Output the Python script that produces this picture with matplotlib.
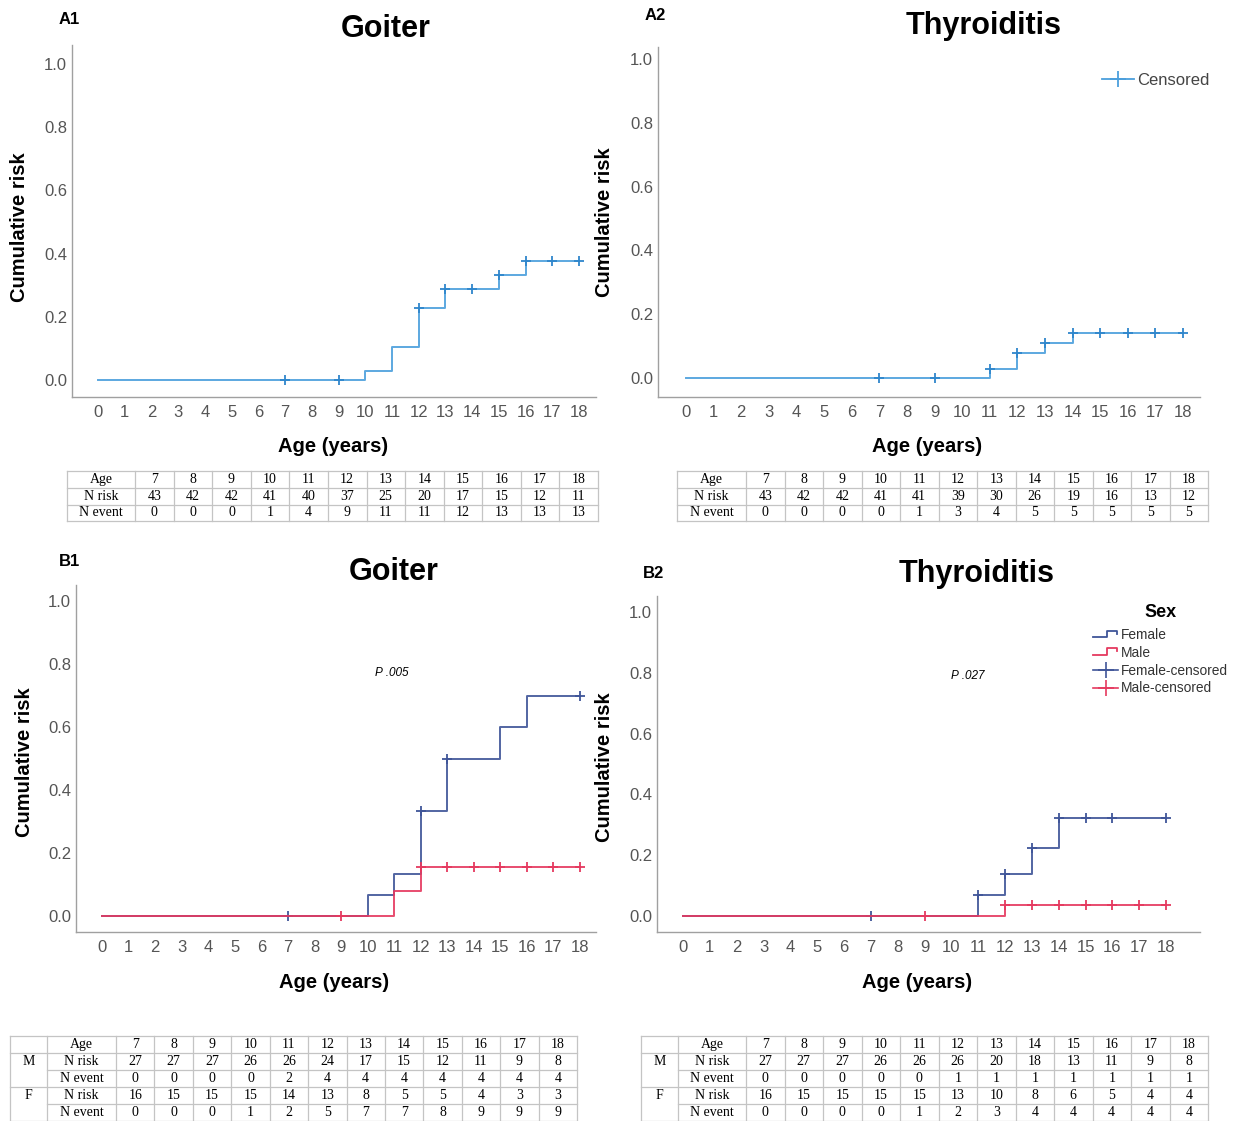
import numpy as np
import matplotlib
matplotlib.use('Agg')
import matplotlib.pyplot as plt
from matplotlib.lines import Line2D
from matplotlib.legend_handler import HandlerBase

# ---- data ----
# A1 goiter, whole cohort
a1_times = [0, 10, 11, 12, 13, 15, 16, 18]
a1_risk = [0, 0.03, 0.105, 0.227, 0.289, 0.332, 0.376, 0.376]
a1_cens = [7, 9, 12, 13, 14, 15, 16, 17, 18]
# A2 thyroiditis, whole cohort
a2_times = [0, 11, 12, 13, 14, 18]
a2_risk = [0, 0.027, 0.077, 0.109, 0.142, 0.142]
a2_cens = [7, 9, 11, 12, 13, 14, 15, 16, 17, 18]
# B1 goiter by sex
b1_f_times = [0, 10, 11, 12, 13, 15, 16, 18]
b1_f_risk = [0, 0.066, 0.134, 0.332, 0.50, 0.60, 0.70, 0.70]
b1_f_cens = [7, 12, 13, 18]
b1_m_times = [0, 11, 12, 18]
b1_m_risk = [0, 0.078, 0.155, 0.155]
b1_m_cens = [9, 12, 13, 14, 15, 16, 17, 18]
# B2 thyroiditis by sex
b2_f_times = [0, 11, 12, 13, 14, 18]
b2_f_risk = [0, 0.068, 0.139, 0.223, 0.321, 0.321]
b2_f_cens = [7, 11, 12, 13, 14, 15, 16, 18]
b2_m_times = [0, 12, 18]
b2_m_risk = [0, 0.037, 0.037]
b2_m_cens = [9, 12, 13, 14, 15, 16, 17, 18]

# risk tables
tab_ages = [7, 8, 9, 10, 11, 12, 13, 14, 15, 16, 17, 18]
a1_nrisk = [43, 42, 42, 41, 40, 37, 25, 20, 17, 15, 12, 11]
a1_nevent = [0, 0, 0, 1, 4, 9, 11, 11, 12, 13, 13, 13]
a2_nrisk = [43, 42, 42, 41, 41, 39, 30, 26, 19, 16, 13, 12]
a2_nevent = [0, 0, 0, 0, 1, 3, 4, 5, 5, 5, 5, 5]
b1_m_nrisk = [27, 27, 27, 26, 26, 24, 17, 15, 12, 11, 9, 8]
b1_m_nevent = [0, 0, 0, 0, 2, 4, 4, 4, 4, 4, 4, 4]
b1_f_nrisk = [16, 15, 15, 15, 14, 13, 8, 5, 5, 4, 3, 3]
b1_f_nevent = [0, 0, 0, 1, 2, 5, 7, 7, 8, 9, 9, 9]
b2_m_nrisk = [27, 27, 27, 26, 26, 26, 20, 18, 13, 11, 9, 8]
b2_m_nevent = [0, 0, 0, 0, 0, 1, 1, 1, 1, 1, 1, 1]
b2_f_nrisk = [16, 15, 15, 15, 15, 13, 10, 8, 6, 5, 4, 4]
b2_f_nevent = [0, 0, 0, 0, 1, 2, 3, 4, 4, 4, 4, 4]

x_ticks = list(range(0, 19))
y_ticks = [0.0, 0.2, 0.4, 0.6, 0.8, 1.0]

BLUE = '#4b9fdc'
BLUE_M = '#2f86cc'
FEM = '#3f5598'
MAL = '#e5395f'
SANS = 'Liberation Sans'
SERIF = 'Liberation Serif'

W, H = 1233, 1121
fig = plt.figure(figsize=(W / 100, H / 100), dpi=100)


def add_panel(left, right, top, bottom, x0px, x18px, y0px, y1px):
    '''Axes placed in pixel coords, limits set so that data anchors land on the given pixels'''
    ax = fig.add_axes([left / W, 1 - bottom / H, (right - left) / W, (bottom - top) / H])
    sx = (x18px - x0px) / 18
    ax.set_xlim(-(x0px - left) / sx, 18 + (right - x18px) / sx)
    sy = y0px - y1px
    ax.set_ylim(-(bottom - y0px) / sy, 1 + (y1px - top) / sy)
    ax.set_xticks(x_ticks)
    ax.set_yticks(y_ticks)
    ax.set_yticklabels(['{:.1f}'.format(v) for v in y_ticks])
    ax.tick_params(length=0, labelsize=12, labelcolor='#555555', pad=3.5)
    ax.tick_params(axis='x', pad=6)
    for lab in ax.get_xticklabels() + ax.get_yticklabels():
        lab.set_fontfamily(SANS)
    for s in ['top', 'right']:
        ax.spines[s].set_visible(False)
    for s in ['left', 'bottom']:
        ax.spines[s].set_color('#a0a0a0')
        ax.spines[s].set_linewidth(1.0)
    ax.patch.set_alpha(0)
    return ax


def km_curve(ax, times, risk, cens, line_col, mark_col):
    ax.step(times, risk, where='post', color=line_col, lw=1.4, alpha=0.9)
    idx = np.searchsorted(times, cens, side='right') - 1
    cy = np.array(risk)[idx]
    ax.plot(cens, cy, '+', color=mark_col, ms=7.5, mew=1.3, ls='none')


axA1 = add_panel(72, 596, 45, 397, 98, 579, 380, 64)
km_curve(axA1, a1_times, a1_risk, a1_cens, BLUE, BLUE_M)

axA2 = add_panel(658, 1200, 47, 397, 686, 1183, 378, 59)
km_curve(axA2, a2_times, a2_risk, a2_cens, BLUE, BLUE_M)
axA2.legend(handles=[Line2D([], [], color=BLUE, marker='+', ms=12, mew=1.3, lw=1.3)],
            labels=['Censored'], loc='upper left', bbox_to_anchor=(1094 / W, 1 - 65 / H),
            bbox_transform=fig.transFigure, frameon=False, borderpad=0, handlelength=1.9,
            handletextpad=0.2, prop={'family': SANS, 'size': 12}, labelcolor='#444444')

axB1 = add_panel(76, 596, 585, 932, 102, 580, 916, 601)
km_curve(axB1, b1_f_times, b1_f_risk, b1_f_cens, FEM, FEM)
km_curve(axB1, b1_m_times, b1_m_risk, b1_m_cens, MAL, MAL)
axB1.text(10.9, 0.77, 'P .005', fontsize=8.5, style='italic', family=SANS, ha='center', va='center')

axB2 = add_panel(657, 1200, 596, 932, 683, 1166, 916, 612)
km_curve(axB2, b2_f_times, b2_f_risk, b2_f_cens, FEM, FEM)
km_curve(axB2, b2_m_times, b2_m_risk, b2_m_cens, MAL, MAL)
axB2.text(10.6, 0.79, 'P .027', fontsize=8.5, style='italic', family=SANS, ha='center', va='center')


class StepHandler(HandlerBase):
    def create_artists(self, legend, orig_handle, xdescent, ydescent, width, height, fontsize, trans):
        xs = np.array([0, 0.55, 0.55, 0.93, 0.93]) * width - xdescent
        ys = np.array([0.15, 0.15, 0.85, 0.85, 0.55]) * height - ydescent
        ln = Line2D(xs, ys, color=orig_handle.get_color(), lw=1.3, transform=trans)
        return [ln]


h_f = Line2D([], [], color=FEM)
h_m = Line2D([], [], color=MAL)
h_fc = Line2D([], [], color=FEM, marker='+', ms=11, mew=1.2, lw=1.2)
h_mc = Line2D([], [], color=MAL, marker='+', ms=11, mew=1.2, lw=1.2)
leg = axB2.legend(handles=[h_f, h_m, h_fc, h_mc],
                  labels=['Female', 'Male', 'Female-censored', 'Male-censored'],
                  handler_map={h_f: StepHandler(), h_m: StepHandler()},
                  loc='upper left', bbox_to_anchor=(1086 / W, 1 - 597 / H),
                  bbox_transform=fig.transFigure, frameon=False, borderpad=0,
                  handlelength=1.85, handletextpad=0.2, labelspacing=0.28,
                  prop={'family': SANS, 'size': 9.9}, labelcolor='#333333',
                  title='Sex', title_fontproperties={'family': SANS, 'size': 13, 'weight': 'bold'})
leg._legend_box.sep = 5

# ---- overlay for titles, labels and tables (pixel coords) ----
ov = fig.add_axes([0, 0, 1, 1])
ov.set_xlim(0, W)
ov.set_ylim(H, 0)
ov.axis('off')

for x, y, s in [(69, 20, 'A1'), (655, 16, 'A2'), (69, 561, 'B1'), (654, 573, 'B2')]:
    ov.text(x, y, s, fontsize=12, weight='bold', family=SANS, ha='center', va='center')
for x, y, s in [(386, 29, 'Goiter'), (984, 26, 'Thyroiditis'), (394, 572, 'Goiter'), (977, 574, 'Thyroiditis')]:
    ov.text(x, y, s, fontsize=22, weight='bold', family=SANS, ha='center', va='center')
for x, y in [(20, 227), (604, 222), (25, 762), (604, 767)]:
    ov.text(x, y, 'Cumulative risk', fontsize=14.5, weight='bold', family=SANS,
            rotation=90, ha='center', va='center')
for x, y in [(333, 447), (927, 447), (334, 983), (917, 983)]:
    ov.text(x, y, 'Age (years)', fontsize=14.5, weight='bold', family=SANS, ha='center', va='center')

GRID = '#c4c4c4'


def draw_table(edges, top, row_h, rows, group=None, merged=()):
    '''edges: x pixel positions of column borders; rows: list of cell text lists'''
    n = len(rows)
    bottom = top + n * row_h
    for x in edges:
        ov.plot([x, x], [top, bottom], color=GRID, lw=0.9)
    for i in range(n + 1):
        y = top + i * row_h
        x_start = edges[1] if i in merged else edges[0]
        ov.plot([x_start, edges[-1]], [y, y], color=GRID, lw=0.9)
    off = 1 if group is not None else 0
    for i, row in enumerate(rows):
        yc = top + (i + 0.5) * row_h
        if group is not None and group[i]:
            ov.text((edges[0] + edges[1]) / 2, yc, group[i], fontsize=10, family=SERIF,
                    ha='center', va='center')
        for j, cell in enumerate(row):
            xc = (edges[j + off] + edges[j + off + 1]) / 2
            ov.text(xc, yc, str(cell), fontsize=10, family=SERIF, ha='center', va='center')


def col_edges(x0, label_w, x1, first_w=None):
    e = [x0]
    if first_w:
        e.append(x0 + first_w)
    start = e[-1] + label_w
    e.extend(np.linspace(start, x1, len(tab_ages) + 1))
    return e


draw_table(col_edges(67, 68, 598), 471, 16.8,
           [['Age'] + tab_ages, ['N risk'] + a1_nrisk, ['N event'] + a1_nevent])
draw_table(col_edges(677, 69, 1208), 471, 16.8,
           [['Age'] + tab_ages, ['N risk'] + a2_nrisk, ['N event'] + a2_nevent])
draw_table(col_edges(10, 69, 577, first_w=37), 1036, 17,
           [['Age'] + tab_ages, ['N risk'] + b1_m_nrisk, ['N event'] + b1_m_nevent,
            ['N risk'] + b1_f_nrisk, ['N event'] + b1_f_nevent],
           group=['', 'M', '', 'F', ''], merged=(2, 4))
draw_table(col_edges(641, 68, 1208, first_w=37), 1036, 17,
           [['Age'] + tab_ages, ['N risk'] + b2_m_nrisk, ['N event'] + b2_m_nevent,
            ['N risk'] + b2_f_nrisk, ['N event'] + b2_f_nevent],
           group=['', 'M', '', 'F', ''], merged=(2, 4))

fig.savefig('out.png', dpi=100)
